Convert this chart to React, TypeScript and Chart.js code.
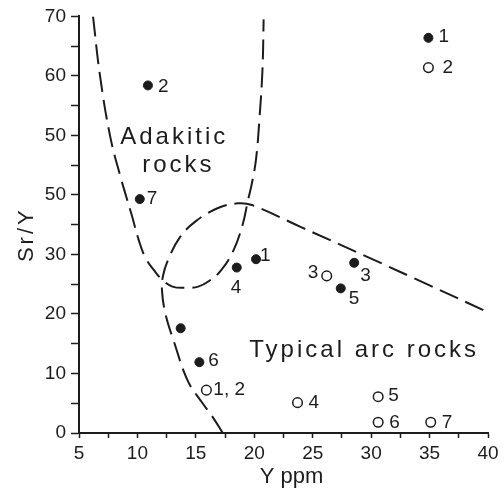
import React, { useEffect, useRef } from 'react';
import { Chart, registerables } from 'chart.js';

Chart.register(...registerables);

// ---------- data ----------
const xTickValues = [5, 10, 15, 20, 25, 30, 35, 40];
const xTickLabels = ['5', '10', '15', '20', '25', '30', '35', '40'];
const yTickValues = [0, 10, 20, 30, 40, 50, 60, 70];
const yTickLabels = ['0', '10', '20', '30', '50', '50', '60', '70'];

const xTitle = 'Y ppm';
const yTitle = 'Sr/Y';

// filled symbols
const filledX = [34.9, 10.9, 10.2, 18.5, 20.15, 28.55, 27.4, 13.7, 15.3];
const filledY = [66.4, 58.4, 39.3, 27.8, 29.2, 28.6, 24.3, 17.6, 11.9];
const filledLabels = ['1', '2', '7', '4', '1', '3', '5', '', '6'];

// open symbols
const openX = [34.9, 26.2, 15.9, 23.7, 30.6, 30.6, 35.1];
const openY = [61.4, 26.4, 7.2, 5.1, 6.1, 1.8, 1.8];
const openLabels = ['2', '3', '1, 2', '4', '5', '6', '7'];

// dashed boundary: adakitic field (U shape)
const adakiticX = [6.2, 6.8, 7.65, 8.5, 9.5, 10.1, 10.7, 11.4, 12.1, 13.0, 14.1, 15.2, 16.1, 17.1, 18.2, 19.0, 19.45, 19.8, 20.15, 20.45, 20.7, 20.8];
const adakiticY = [70, 60, 50, 43.4, 36.7, 32.5, 29.4, 27.4, 25.8, 24.6, 24.4, 24.6, 25.5, 27.2, 30.6, 35.0, 39, 42, 46, 53, 61, 69.5];

// dashed boundary: typical arc field
const arcX = [17.3, 16.4, 15.5, 14.3, 13.1, 12.4, 12.1, 12.2, 12.65, 13.6, 15.0, 16.9, 18.6, 19.8, 24, 30, 35, 40];
const arcY = [0, 2.8, 5.2, 8.8, 15.5, 20, 24, 26.5, 29.2, 32.8, 35.6, 37.8, 38.6, 38.3, 34.6, 29.3, 24.8, 20.3];

// field names, anchored at data coordinates
const regionLabels = ['Adakitic', 'rocks', 'Typical arc rocks'];
const regionLabelX = [13.15, 13.5, 29.4];
const regionLabelY = [48.6, 43.9, 12.7];

// ---------- styling (label offsets in px) ----------
const filledLabelOffsets = [[10, -1], [10, 1], [7, 0], [-6, 20], [4, -3], [6, 13], [8, 10], [0, 0], [9, -1]];
const openLabelOffsets = [[14, 0], [-19, -3], [7, 0], [11, 0], [10, -1], [11, 0], [11, 0]];

const INK = '#1c1c1c';
const FONT = "'Liberation Sans', Arial, sans-serif";

const toPts = (xs: number[], ys: number[]) => xs.map((x, i) => ({ x, y: ys[i] }));

const textPlugin = {
  id: 'texts',
  afterDatasetsDraw(chart: any) {
    const ctx = chart.ctx as CanvasRenderingContext2D;
    const xs = chart.scales.x;
    const ys = chart.scales.y;
    const area = chart.chartArea;
    ctx.save();
    ctx.fillStyle = INK;
    ctx.font = `19px ${FONT}`;
    ctx.textAlign = 'left';
    ctx.textBaseline = 'middle';
    filledLabels.forEach((t, i) => {
      if (!t) return;
      const [dx, dy] = filledLabelOffsets[i];
      ctx.fillText(t, xs.getPixelForValue(filledX[i]) + dx, ys.getPixelForValue(filledY[i]) + dy);
    });
    openLabels.forEach((t, i) => {
      if (!t) return;
      const [dx, dy] = openLabelOffsets[i];
      ctx.fillText(t, xs.getPixelForValue(openX[i]) + dx, ys.getPixelForValue(openY[i]) + dy);
    });

    // region names
    ctx.font = `24px ${FONT}`;
    (ctx as any).letterSpacing = '3px';
    ctx.textAlign = 'center';
    ctx.textBaseline = 'alphabetic';
    regionLabels.forEach((t, i) => {
      ctx.fillText(t, xs.getPixelForValue(regionLabelX[i]), ys.getPixelForValue(regionLabelY[i]));
    });

    // axis titles
    (ctx as any).letterSpacing = '0px';
    ctx.font = `22px ${FONT}`;
    ctx.fillText(xTitle, (area.left + area.right) / 2 + 8, 483);
    (ctx as any).letterSpacing = '3px';
    ctx.translate(33, (area.top + area.bottom) / 2 + 10);
    ctx.rotate(-Math.PI / 2);
    ctx.fillText(yTitle, 0, 0);
    ctx.restore();
  },
};

export default function App() {
  const ref = useRef<HTMLCanvasElement | null>(null);

  useEffect(() => {
    if (!ref.current) return;
    const curve = (xs: number[], ys: number[]) => ({
      data: toPts(xs, ys),
      showLine: true,
      borderColor: INK,
      borderWidth: 2,
      borderDash: [20, 8],
      pointRadius: 0,
      tension: 0.4,
      fill: false,
      order: 2,
    });
    const chart = new Chart(ref.current, {
      type: 'scatter',
      data: {
        datasets: [
          {
            data: toPts(filledX, filledY),
            backgroundColor: INK,
            borderColor: INK,
            borderWidth: 1,
            pointRadius: 4.5,
            order: 0,
          } as any,
          {
            data: toPts(openX, openY),
            backgroundColor: '#ffffff',
            borderColor: INK,
            borderWidth: 1.5,
            pointRadius: 4.8,
            order: 1,
          } as any,
          curve(adakiticX, adakiticY) as any,
          curve(arcX, arcY) as any,
        ],
      },
      options: {
        animation: false,
        responsive: false,
        devicePixelRatio: 1,
        layout: { padding: { top: 14, right: 16, bottom: 0, left: 0 } },
        plugins: { legend: { display: false }, tooltip: { enabled: false } },
        events: [],
        scales: {
          x: {
            type: 'linear',
            min: 5,
            max: 40,
            ticks: {
              stepSize: 2.5,
              autoSkip: false,
              maxRotation: 0,
              padding: 4,
              color: INK,
              font: { family: FONT, size: 19 },
              callback: (v: any) => {
                const i = xTickValues.indexOf(Number(v));
                return i >= 0 ? xTickLabels[i] : '';
              },
            },
            grid: { drawOnChartArea: false, drawTicks: true, tickLength: 5, tickColor: INK, tickWidth: 1.5 },
            border: { display: true, color: INK, width: 2 },
            afterFit: (s: any) => { s.height = 64; },
          },
          y: {
            type: 'linear',
            min: 0,
            max: 70,
            ticks: {
              stepSize: 5,
              autoSkip: false,
              padding: 5,
              color: INK,
              font: { family: FONT, size: 19 },
              callback: (v: any) => {
                const i = yTickValues.indexOf(Number(v));
                return i >= 0 ? yTickLabels[i] : '';
              },
            },
            grid: { drawOnChartArea: false, drawTicks: true, tickLength: 8, tickColor: INK, tickWidth: 1.5 },
            border: { display: true, color: INK, width: 2 },
            afterFit: (s: any) => { s.width = 79; },
          },
        },
      } as any,
      plugins: [textPlugin as any],
    });
    return () => chart.destroy();
  }, []);

  return (
    <div style={{ position: 'absolute', left: 0, top: 0, width: 504, height: 497, background: '#fff' }}>
      <canvas ref={ref} width={504} height={497} style={{ display: 'block' }} />
    </div>
  );
}
